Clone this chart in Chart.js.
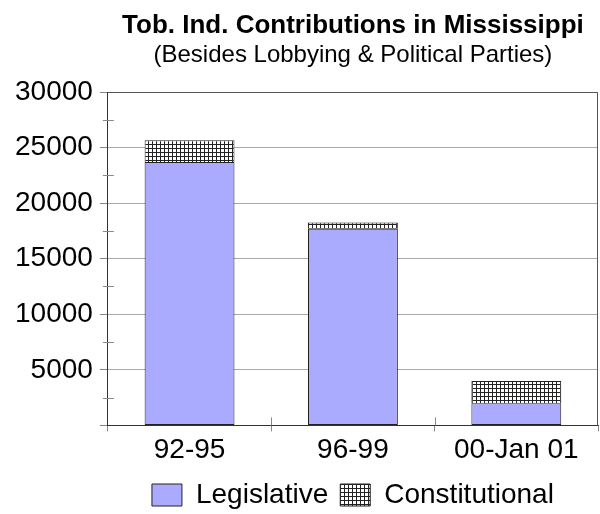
<!DOCTYPE html>
<html>
<head>
<meta charset="utf-8">
<script src="https://cdn.jsdelivr.net/npm/chart.js@4/dist/chart.umd.min.js"></script>
<style>
    html, body { margin: 0; padding: 0; background: #fff; }
    #wrap { width: 600px; height: 514px; }
</style>
</head>
<body>
<div id="wrap"><canvas id="contribChart"></canvas></div>
<script>
'use strict';

const periods = ['92-95', '96-99', '00-Jan 01'];
const legislative = [23700, 17700, 2000];
const constitutional = [1950, 550, 2000];
const yTicks = [0, 5000, 10000, 15000, 20000, 25000, 30000];
const minorTicks = [2500, 7500, 12500, 17500, 22500, 27500];

const FONT = "'Liberation Sans', Arial, sans-serif";

// small square grid used for the Constitutional fill
function makeGridPattern() {
    const c = document.createElement('canvas');
    c.width = 4;
    c.height = 4;
    const g = c.getContext('2d');
    g.fillStyle = '#fff';
    g.fillRect(0, 0, 4, 4);
    g.fillStyle = '#222';
    g.fillRect(0, 0, 4, 1);
    g.fillRect(0, 0, 1, 4);
    return g.createPattern(c, 'repeat');
}

// frame round the plot plus the small ticks that cross the axes
const frameAndTicks = {
    id: 'frameAndTicks',
    afterDraw(chart) {
        const { ctx, chartArea: a, scales } = chart;
        ctx.save();
        ctx.strokeStyle = '#555';
        ctx.lineWidth = 1;
        ctx.beginPath();
        ctx.moveTo(a.left, a.top + 0.5);
        ctx.lineTo(a.right - 0.5, a.top + 0.5);
        ctx.lineTo(a.right - 0.5, a.bottom);
        ctx.stroke();

        ctx.strokeStyle = '#888';
        ctx.beginPath();
        minorTicks.forEach(v => {
            const y = Math.round(scales.y.getPixelForValue(v)) + 0.5;
            ctx.moveTo(a.left - 5, y);
            ctx.lineTo(a.left + 6, y);
        });
        // category boundary ticks, inner part
        const x = scales.x;
        for (let i = 1; i < periods.length; i++) {
            const px = Math.round((x.getPixelForValue(i - 1) + x.getPixelForValue(i)) / 2) + 0.5;
            ctx.moveTo(px, a.bottom - 8);
            ctx.lineTo(px, a.bottom);
        }
        ctx.stroke();
        ctx.restore();
    }
};

const ctx = document.getElementById('contribChart').getContext('2d');
const chart = new Chart(ctx, {
    type: 'bar',
    data: {
        labels: periods,
        datasets: [{
            label: 'Legislative',
            data: legislative,
            backgroundColor: '#aaaaff',
            borderColor: '#222',
            borderWidth: 1,
            borderSkipped: false
        }, {
            label: 'Constitutional',
            data: constitutional,
            backgroundColor: makeGridPattern(),
            borderColor: '#222',
            borderWidth: 1,
            borderSkipped: 'bottom'
        }]
    },
    options: {
        responsive: true,
        maintainAspectRatio: false,
        animation: false,
        layout: { padding: { left: 8, right: 2, top: 0, bottom: -5 } },
        datasets: {
            bar: { categoryPercentage: 1, barPercentage: 0.55 }
        },
        plugins: {
            title: {
                display: true,
                text: 'Tob. Ind. Contributions in Mississippi',
                fullSize: false,
                color: '#000',
                font: { family: FONT, size: 26, weight: 'bold' },
                padding: { top: 10, bottom: 0 }
            },
            subtitle: {
                display: true,
                text: '(Besides Lobbying & Political Parties)',
                fullSize: false,
                color: '#000',
                font: { family: FONT, size: 24 },
                padding: { top: 0, bottom: 22 }
            },
            legend: {
                position: 'bottom',
                fullSize: false,
                labels: {
                    color: '#000',
                    font: { family: FONT, size: 28 },
                    boxWidth: 30,
                    boxHeight: 22,
                    padding: 12
                }
            },
            tooltip: { enabled: false }
        },
        scales: {
            x: {
                stacked: true,
                offset: true,
                grid: {
                    offset: true,
                    drawOnChartArea: false,
                    color: '#888',
                    tickLength: 6
                },
                border: { color: '#333' },
                ticks: {
                    color: '#000',
                    font: { family: FONT, size: 28 },
                    padding: 2
                }
            },
            y: {
                stacked: true,
                min: 0,
                max: 30000,
                afterBuildTicks: axis => {
                    axis.ticks = yTicks.map(v => ({ value: v }));
                },
                grid: {
                    color: '#aaa',
                    tickColor: '#888',
                    tickLength: 8
                },
                border: { color: '#333' },
                ticks: {
                    color: '#000',
                    font: { family: FONT, size: 28 },
                    padding: 7,
                    callback: v => (v === 0 ? '' : String(v))
                }
            }
        }
    },
    plugins: [frameAndTicks]
});
</script>
</body>
</html>
